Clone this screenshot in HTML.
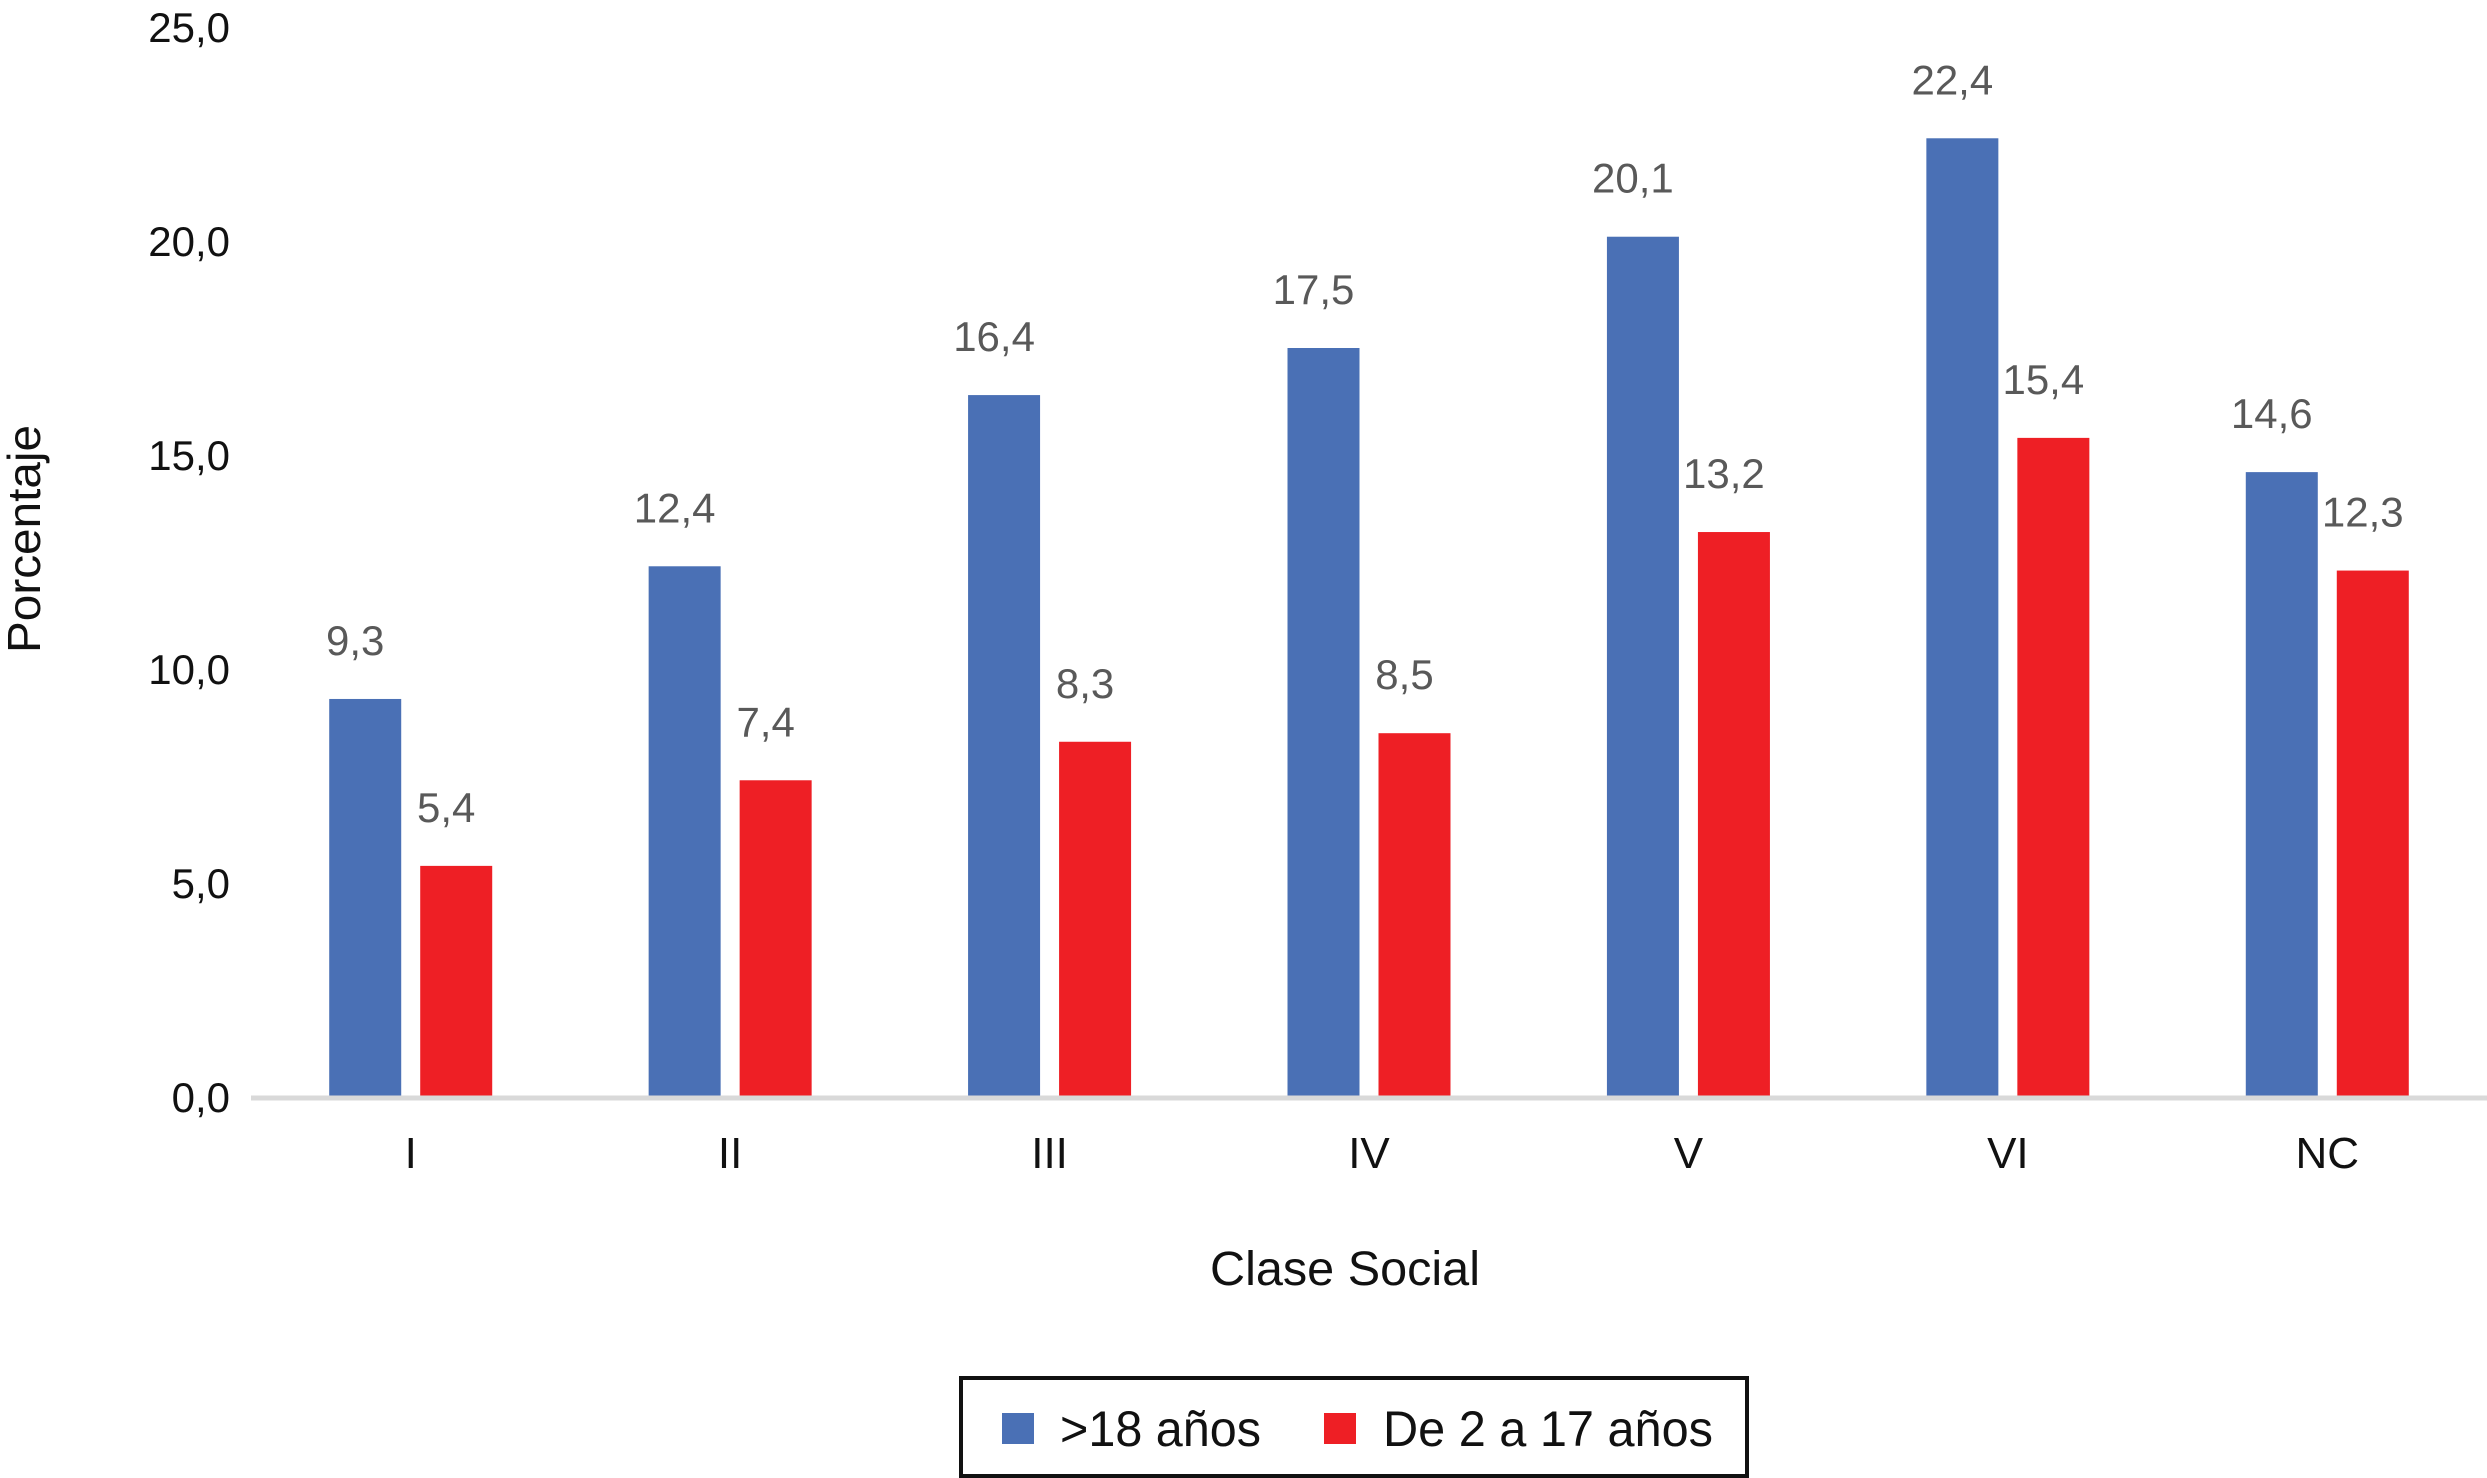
<!DOCTYPE html>
<html><head><meta charset="utf-8"><style>
html,body{margin:0;padding:0;background:#fff;}
svg{display:block;}
text{font-family:"Liberation Sans",Arial,sans-serif;}
.n{font-family:"Liberation Sans Narrow","Liberation Sans",sans-serif;}
</style></head><body>
<svg id="chart" width="2487" height="1478" viewBox="0 0 2487 1478" xmlns="http://www.w3.org/2000/svg">
<g id="yticks"></g>
<g id="bars"></g>
<g id="xcats"></g>
<line x1="251" y1="1098" x2="2487" y2="1098" stroke="#d9d9d9" stroke-width="5"/>
<text class="n" transform="translate(40,539) rotate(-90)" text-anchor="middle" font-size="46" textLength="228" lengthAdjust="spacingAndGlyphs" fill="#111">Porcentaje</text>
<text class="n" x="1345" y="1285" text-anchor="middle" font-size="48" textLength="270" lengthAdjust="spacingAndGlyphs" fill="#111">Clase Social</text>
<g>
<rect x="961" y="1378" width="786" height="98" fill="#fff" stroke="#111" stroke-width="4"/>
<rect x="1002" y="1413" width="32" height="31" fill="#4A70B5"/>
<text class="n" x="1060" y="1446" font-size="50" textLength="201" lengthAdjust="spacingAndGlyphs" fill="#111">&gt;18 años</text>
<rect x="1324" y="1413" width="32" height="31" fill="#EE1F25"/>
<text class="n" x="1383" y="1446" font-size="50" textLength="330" lengthAdjust="spacingAndGlyphs" fill="#111">De 2 a 17 años</text>
</g>
</svg>
<script>
const categories = ["I","II","III","IV","V","VI","NC"];
const adults = [9.3,12.4,16.4,17.5,20.1,22.4,14.6];
const children = [5.4,7.4,8.3,8.5,13.2,15.4,12.3];
const yTicks = [0,5,10,15,20,25];
const fmt = v => v.toFixed(1).replace('.', ',');
const NS = "http://www.w3.org/2000/svg";
const y0 = 1097, pxPer = 42.8, left = 251, right = 2487;
const yScale = v => y0 - v * pxPer;
const band = (right - left) / categories.length;
const xCenter = i => left + band * (i + 0.5);
function mk(tag, attrs, parent, txt){const e=document.createElementNS(NS,tag);for(const k in attrs)e.setAttribute(k,attrs[k]);if(txt!==undefined)e.textContent=txt;parent.appendChild(e);return e;}
const yg=document.getElementById('yticks'), bg=document.getElementById('bars'), xg=document.getElementById('xcats');
yTicks.forEach(t=>{
  const e=mk('text',{x:230,y:yScale(t)+15,'text-anchor':'end','font-size':42,fill:'#111'},yg,fmt(t));
  
  
});
const bw=72, off=45.5;
categories.forEach((c,i)=>{
  const cx=xCenter(i);
  const l=mk('text',{x:cx,y:1168,'text-anchor':'middle','font-size':44,fill:'#111',class:'n'},xg,c);
  
  
  [[adults,'#4A70B5',-off,'adults'],[children,'#EE1F25',off,'children']].forEach(([arr,col,o,nm])=>{
    const v=arr[i], top=yScale(v);
    const r=mk('rect',{x:cx+o-bw/2,y:top,width:bw,height:y0-top,fill:col},bg);
    
    
    const t=mk('text',{x:cx+o-10,y:top-44,'text-anchor':'middle','font-size':42,fill:'#595959'},bg,fmt(v));
    
    
  });
});
</script>
</body></html>
